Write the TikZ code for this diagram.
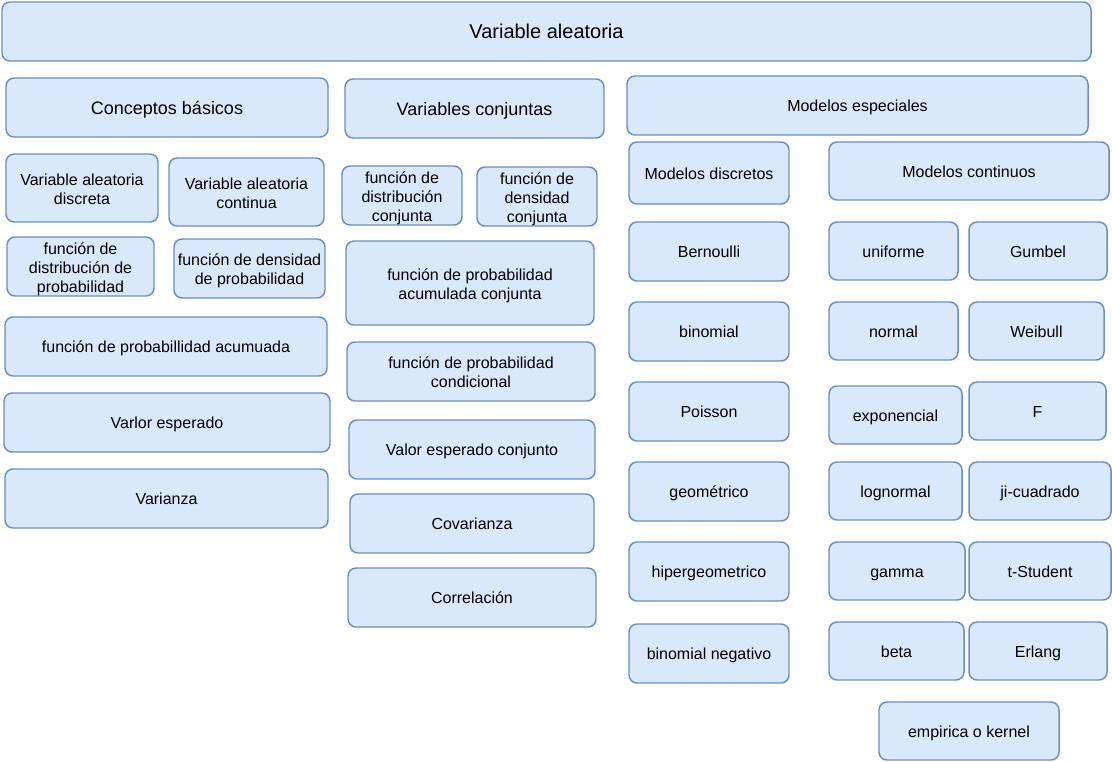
\documentclass[tikz,border=0pt]{standalone}
\usepackage{fontspec}
\setmainfont{Liberation Sans}
\usetikzlibrary{positioning}

\definecolor{cajafill}{HTML}{DAE8FC}
\definecolor{cajaline}{HTML}{6C8EBF}
\newcommand\alto{\rule{0pt}{14.5pt}}

\begin{document}
\begin{tikzpicture}[x=0.75pt,y=-0.75pt,
    box/.style 2 args={draw=cajaline,fill=cajafill,line width=1.1pt,rounded corners=6pt,
      inner xsep=0pt,inner ysep=-2pt,align=center,minimum width=#1*0.75pt,minimum height=#2*0.75pt,
      font=\fontsize{12}{14.3}\selectfont,
      execute at begin node={\rule{0pt}{\dimexpr0.7\baselineskip+4pt\relax}},
      execute at end node={\strut}},
    medio/.style={font=\fontsize{13.5}{16}\selectfont},
    titulo/.style={font=\fontsize{15}{18}\selectfont}]
    \useasboundingbox (0,0) rectangle (1112,761);
    % titulo
    \node[box={1089}{59},titulo] (va) at (546.5,31.5) {Variable aleatoria};
    % conceptos basicos
    \node[box={322}{59},medio] (cb) at (167,107.5) {Conceptos básicos};
    \node[box={152}{68}] (vad) at (82,188) {\alto Variable aleatoria\\discreta};
    \node[box={155}{68}] (vac) at (246.5,192) {\alto Variable aleatoria\\continua};
    \node[box={147}{59}] (fdp) at (80.5,266.5) {\alto función de\\distribución de\\probabilidad};
    \node[box={151}{59}] (fden) at (249.5,268.5) {\alto función de densidad\\de probabilidad};
    \node[box={322}{59}] (fpa) at (166,346.5) {función de probabillidad acumuada};
    \node[box={326}{59}] (ve) at (167,422.5) {Varlor esperado};
    \node[box={323}{59}] (var) at (166.5,498.5) {Varianza};
    % variables conjuntas
    \node[box={259}{59},medio] (vc) at (474.5,108.5) {Variables conjuntas};
    \node[box={120}{59}] (fdc) at (402,195.5) {\alto función de\\distribución\\conjunta};
    \node[box={120}{59}] (fdenc) at (537,196.5) {\alto función de\\densidad\\conjunta};
    \node[box={248}{84}] (fpac) at (470,283) {\alto función de probabilidad\\acumulada conjunta};
    \node[box={248}{59}] (fpc) at (471,371.5) {\alto función de probabilidad\\condicional};
    \node[box={246}{59}] (vec) at (472,449.5) {Valor esperado conjunto};
    \node[box={244}{59}] (cov) at (472,523.5) {Covarianza};
    \node[box={248}{59}] (cor) at (472,597.5) {Correlación};
    % modelos especiales
    \node[box={461}{59}] (me) at (857.5,105.5) {Modelos especiales};
    \node[box={160}{62}] (md) at (709,173) {Modelos discretos};
    \node[box={280}{58}] (mc) at (969,171) {Modelos continuos};
    % discretos
    \node[box={160}{59}] (ber) at (709,251.5) {Bernoulli};
    \node[box={160}{59}] (bin) at (709,331.5) {binomial};
    \node[box={160}{59}] (poi) at (709,411.5) {Poisson};
    \node[box={160}{59}] (geo) at (709,491.5) {geométrico};
    \node[box={160}{59}] (hip) at (709,571.5) {hipergeometrico};
    \node[box={160}{59}] (bneg) at (709,653.5) {binomial negativo};
    % continuos
    \node[box={129}{58}] (uni) at (893.5,251) {uniforme};
    \node[box={138}{58}] (gum) at (1038,251) {Gumbel};
    \node[box={129}{58}] (nor) at (893.5,331) {normal};
    \node[box={135}{58}] (wei) at (1036.5,331) {Weibull};
    \node[box={133}{58}] (exp) at (895.5,415) {exponencial};
    \node[box={137}{58}] (ef) at (1037.5,411) {F};
    \node[box={133}{58}] (logn) at (895.5,491) {lognormal};
    \node[box={142}{58}] (ji) at (1040,491) {ji-cuadrado};
    \node[box={136}{58}] (gam) at (897,571) {gamma};
    \node[box={142}{58}] (ts) at (1040,571) {t-Student};
    \node[box={135}{58}] (bet) at (896.5,651) {beta};
    \node[box={138}{58}] (erl) at (1038,651) {Erlang};
    \node[box={180}{58}] (emp) at (969,731) {empirica o kernel};
\end{tikzpicture}
\end{document}
